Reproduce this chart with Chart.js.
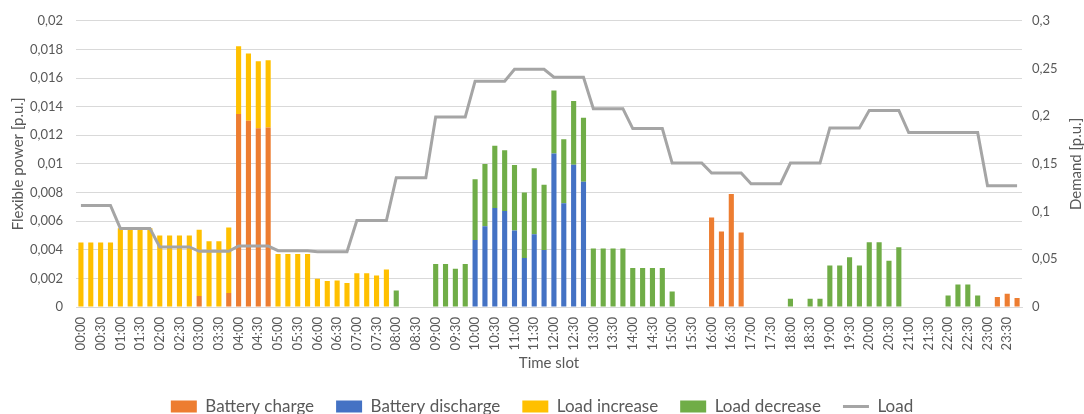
<!DOCTYPE html>
<html>
<head>
<meta charset="utf-8">
<script src="https://cdn.jsdelivr.net/npm/chart.js@4/dist/chart.umd.min.js"></script>
<style>
  html, body { margin: 0; padding: 0; background: #fff; }
  #wrap { width: 1084px; height: 414px; }
</style>
</head>
<body>
<div id="wrap"><canvas id="chart"></canvas></div>
<script>
const timeSlots = [
    '00:00','00:15','00:30','00:45','01:00','01:15','01:30','01:45','02:00','02:15','02:30','02:45',
    '03:00','03:15','03:30','03:45','04:00','04:15','04:30','04:45','05:00','05:15','05:30','05:45',
    '06:00','06:15','06:30','06:45','07:00','07:15','07:30','07:45','08:00','08:15','08:30','08:45',
    '09:00','09:15','09:30','09:45','10:00','10:15','10:30','10:45','11:00','11:15','11:30','11:45',
    '12:00','12:15','12:30','12:45','13:00','13:15','13:30','13:45','14:00','14:15','14:30','14:45',
    '15:00','15:15','15:30','15:45','16:00','16:15','16:30','16:45','17:00','17:15','17:30','17:45',
    '18:00','18:15','18:30','18:45','19:00','19:15','19:30','19:45','20:00','20:15','20:30','20:45',
    '21:00','21:15','21:30','21:45','22:00','22:15','22:30','22:45','23:00','23:15','23:30','23:45'
];

const batteryCharge = [
    null, null, null, null, null, null, null, null, null, null, null, null,
    0.00076, null, null, 0.00097, 0.01349, 0.01302, 0.01249, 0.01254, null, null, null, null,
    null, null, null, null, null, null, null, null, null, null, null, null,
    null, null, null, null, null, null, null, null, null, null, null, null,
    null, null, null, null, null, null, null, null, null, null, null, null,
    null, null, null, null, 0.00626, 0.00528, 0.0079, 0.00521, null, null, null, null,
    null, null, null, null, null, null, null, null, null, null, null, null,
    null, null, null, null, null, null, null, null, null, 0.0007, 0.00093, 0.00063
];

const batteryDischarge = [
    null, null, null, null, null, null, null, null, null, null, null, null,
    null, null, null, null, null, null, null, null, null, null, null, null,
    null, null, null, null, null, null, null, null, null, null, null, null,
    null, null, null, null, 0.00468, 0.00565, 0.00691, 0.0067, 0.00535, 0.00343, 0.00508, 0.00399,
    0.01073, 0.00725, 0.00994, 0.00876, null, null, null, null, null, null, null, null,
    null, null, null, null, null, null, null, null, null, null, null, null,
    null, null, null, null, null, null, null, null, null, null, null, null,
    null, null, null, null, null, null, null, null, null, null, null, null
];

const loadIncrease = [
    0.0045, 0.0045, 0.0045, 0.0045, 0.0055, 0.0055, 0.0055, 0.0055, 0.005, 0.005, 0.005, 0.005,
    0.00464, 0.0046, 0.0046, 0.00459, 0.00473, 0.00469, 0.00468, 0.0047, 0.0037, 0.0037, 0.0037, 0.0037,
    0.00197, 0.00181, 0.00185, 0.00167, 0.00236, 0.00236, 0.0022, 0.00262, null, null, null, null,
    null, null, null, null, null, null, null, null, null, null, null, null,
    null, null, null, null, null, null, null, null, null, null, null, null,
    null, null, null, null, null, null, null, null, null, null, null, null,
    null, null, null, null, null, null, null, null, null, null, null, null,
    null, null, null, null, null, null, null, null, null, null, null, null
];

const loadDecrease = [
    null, null, null, null, null, null, null, null, null, null, null, null,
    null, null, null, null, null, null, null, null, null, null, null, null,
    null, null, null, null, null, null, null, null, 0.00116, null, null, null,
    0.00301, 0.00301, 0.00267, 0.00301, 0.00424, 0.00434, 0.00435, 0.00426, 0.00457, 0.00457, 0.00461, 0.00456,
    0.0044, 0.00448, 0.00445, 0.00447, 0.00408, 0.00408, 0.00408, 0.00408, 0.00273, 0.00273, 0.00273, 0.00273,
    0.00109, null, null, null, null, null, null, null, null, null, null, null,
    0.00058, null, 0.00058, 0.00058, 0.0029, 0.0029, 0.00348, 0.0029, 0.00452, 0.00452, 0.00324, 0.00417,
    null, null, null, null, 0.00081, 0.00158, 0.00158, 0.00081, null, null, null, null
];

const load = [
    0.1064, 0.1064, 0.1064, 0.1064, 0.0824, 0.0824, 0.0824, 0.0824, 0.0629, 0.0629, 0.0629, 0.0629,
    0.0584, 0.0584, 0.0584, 0.0584, 0.064, 0.064, 0.064, 0.064, 0.059, 0.059, 0.059, 0.059,
    0.058, 0.058, 0.058, 0.058, 0.0907, 0.0907, 0.0907, 0.0907, 0.1356, 0.1356, 0.1356, 0.1356,
    0.1992, 0.1992, 0.1992, 0.1992, 0.2367, 0.2367, 0.2367, 0.2367, 0.2492, 0.2492, 0.2492, 0.2492,
    0.2409, 0.2409, 0.2409, 0.2409, 0.2079, 0.2079, 0.2079, 0.2079, 0.187, 0.187, 0.187, 0.187,
    0.1509, 0.1509, 0.1509, 0.1509, 0.1404, 0.1404, 0.1404, 0.1404, 0.1293, 0.1293, 0.1293, 0.1293,
    0.1509, 0.1509, 0.1509, 0.1509, 0.1877, 0.1877, 0.1877, 0.1877, 0.2061, 0.2061, 0.2061, 0.2061,
    0.1829, 0.1829, 0.1829, 0.1829, 0.1829, 0.1829, 0.1829, 0.1829, 0.1272, 0.1272, 0.1272, 0.1272
];

const TEXT = '#595959';
const GRID = '#d9d9d9';
const FONT = 'Lato';

function commaNum(v) {
    return String(+v.toFixed(4)).replace('.', ',');
}

function barSet(label, data, color) {
    return {
        type: 'bar',
        label: label,
        data: data,
        backgroundColor: color,
        borderWidth: 0,
        pointStyle: 'rect',
        stack: 'flex',
        yAxisID: 'y',
        order: 1,
        categoryPercentage: 1,
        barPercentage: 0.52
    };
}

// right axis title reads bottom-to-top like the left one
const rightTitle = {
    id: 'rightTitle',
    afterDraw(chart) {
        const ctx = chart.ctx;
        ctx.save();
        ctx.translate(1076, (chart.chartArea.top + chart.chartArea.bottom) / 2);
        ctx.rotate(-Math.PI / 2);
        ctx.fillStyle = TEXT;
        ctx.font = '15px ' + FONT;
        ctx.textAlign = 'center';
        ctx.textBaseline = 'middle';
        ctx.fillText('Demand [p.u.]', 0, 0);
        ctx.restore();
    }
};

new Chart(document.getElementById('chart'), {
    data: {
        labels: timeSlots,
        datasets: [
            barSet('Battery charge', batteryCharge, '#ED7D31'),
            barSet('Battery discharge', batteryDischarge, '#4472C4'),
            barSet('Load increase', loadIncrease, '#FFC000'),
            barSet('Load decrease', loadDecrease, '#70AD47'),
            {
                type: 'line',
                label: 'Load',
                data: load,
                borderColor: '#A5A5A5',
                backgroundColor: '#A5A5A5',
                borderWidth: 3,
                pointRadius: 0,
                pointStyle: 'line',
                tension: 0,
                yAxisID: 'y1',
                order: 0
            }
        ]
    },
    options: {
        responsive: true,
        maintainAspectRatio: false,
        animation: false,
        layout: { padding: { top: 11, right: 0, bottom: 0, left: 0 } },
        plugins: {
            tooltip: { enabled: false },
            legend: {
                position: 'bottom',
                maxHeight: 38,
                labels: {
                    color: TEXT,
                    font: { family: FONT, size: 17 },
                    usePointStyle: true,
                    pointStyleWidth: 26,
                    boxHeight: 12,
                    padding: 22,
                    sort: (a, b) => a.datasetIndex - b.datasetIndex
                }
            }
        },
        scales: {
            x: {
                stacked: true,
                offset: true,
                grid: { display: false, drawTicks: false },
                border: { display: true, color: GRID },
                ticks: {
                    color: TEXT,
                    font: { family: FONT, size: 13 },
                    autoSkip: false,
                    maxRotation: 90,
                    minRotation: 90,
                    padding: 10,
                    callback: (v, i) => (i % 2 === 0 ? timeSlots[i] : null)
                },
                title: {
                    display: true,
                    text: 'Time slot',
                    color: TEXT,
                    font: { family: FONT, size: 15 },
                    padding: { top: 0, bottom: 4 }
                },
                afterFit: s => { s.height = 69; }
            },
            y: {
                stacked: true,
                position: 'left',
                min: 0,
                max: 0.02,
                grid: { color: GRID, drawTicks: false },
                border: { display: false },
                ticks: {
                    stepSize: 0.002,
                    color: TEXT,
                    font: { family: FONT, size: 13 },
                    padding: 13,
                    callback: v => commaNum(v)
                },
                title: {
                    display: true,
                    text: 'Flexible power [p.u.]',
                    color: TEXT,
                    font: { family: FONT, size: 15 },
                    padding: { top: 9, bottom: 0 }
                },
                afterFit: s => { s.width = 76; }
            },
            y1: {
                position: 'right',
                min: 0,
                max: 0.3,
                grid: { display: false, drawTicks: false },
                border: { display: false },
                ticks: {
                    stepSize: 0.05,
                    color: TEXT,
                    font: { family: FONT, size: 13 },
                    padding: 10,
                    callback: v => commaNum(v)
                },
                afterFit: s => { s.width = 62; }
            }
        }
    },
    plugins: [rightTitle]
});
</script>
</body>
</html>
